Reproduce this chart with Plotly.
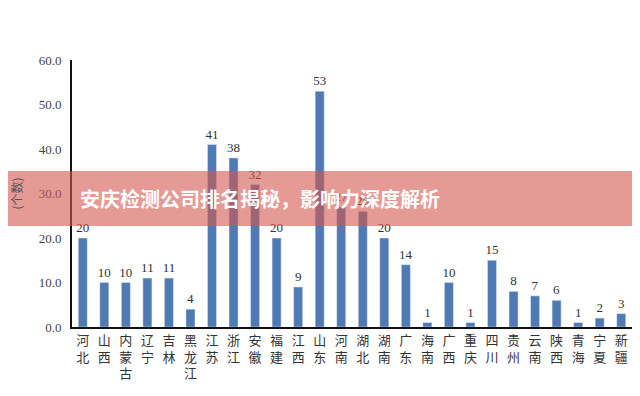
import plotly.graph_objects as go

provinces = ["河北", "山西", "内蒙古", "辽宁", "吉林", "黑龙江", "江苏", "浙江", "安徽", "福建",
             "江西", "山东", "河南", "湖北", "湖南", "广东", "海南", "广西", "重庆", "四川",
             "贵州", "云南", "陕西", "青海", "宁夏", "新疆"]
counts = [20, 10, 10, 11, 11, 4, 41, 38, 32, 20, 9, 53, 27, 26, 20, 14, 1, 10, 1, 15, 8, 7, 6, 1, 2, 3]
y_ticks = [0, 10, 20, 30, 40, 50, 60]
y_title = "(个数)"
banner_title = "安庆检测公司排名揭秘，影响力深度解析"

tick_text = ["<br>".join(list(p)) for p in provinces]

fig = go.Figure(go.Bar(
    x=provinces, y=counts,
    marker=dict(color="#4f7ab3"),
    width=0.42,
    text=[str(v) for v in counts],
    textposition="outside",
    constraintext="none",
    cliponaxis=False,
    textfont=dict(family="Liberation Serif, DejaVu Serif, serif", size=13, color="#333333"),
))

fig.update_layout(
    width=632, height=388,
    margin=dict(l=64, r=8, t=52, b=69, autoexpand=False),
    paper_bgcolor="white", plot_bgcolor="white",
    showlegend=False,
    xaxis=dict(
        tickmode="array", tickvals=provinces, ticktext=tick_text,
        showline=True, linecolor="#111111", linewidth=2,
        showgrid=False, ticks="", automargin=False,
        tickfont=dict(family="Noto Sans CJK SC", size=13, color="#333333"),
        tickangle=0,
    ),
    yaxis=dict(
        range=[0, 60], tickvals=y_ticks, tickformat=".1f",
        showline=True, linecolor="#111111", linewidth=2,
        showgrid=False, ticks="", zeroline=False, automargin=False,
        ticklabelstandoff=6,
        tickfont=dict(family="Liberation Serif, DejaVu Serif, serif", size=13, color="#444444"),
        title=dict(text=y_title, font=dict(family="Noto Sans CJK SC", size=12, color="#555555"), standoff=16),
    ),
    shapes=[dict(
        type="rect", xref="paper", yref="paper",
        x0=-0.2, x1=1.2, y0=0.378, y1=0.584,
        fillcolor="rgba(212,87,78,0.6)", line=dict(width=0), layer="above",
    )],
    annotations=[dict(
        text="<b>" + banner_title + "</b>", xref="paper", yref="paper",
        x=(260 - 72) / 560, y=(327 - 199) / 267, xanchor="center", yanchor="middle",
        showarrow=False,
        font=dict(family="Noto Sans CJK SC", size=20, color="white"),
    )],
)

fig.write_html("out.html")
